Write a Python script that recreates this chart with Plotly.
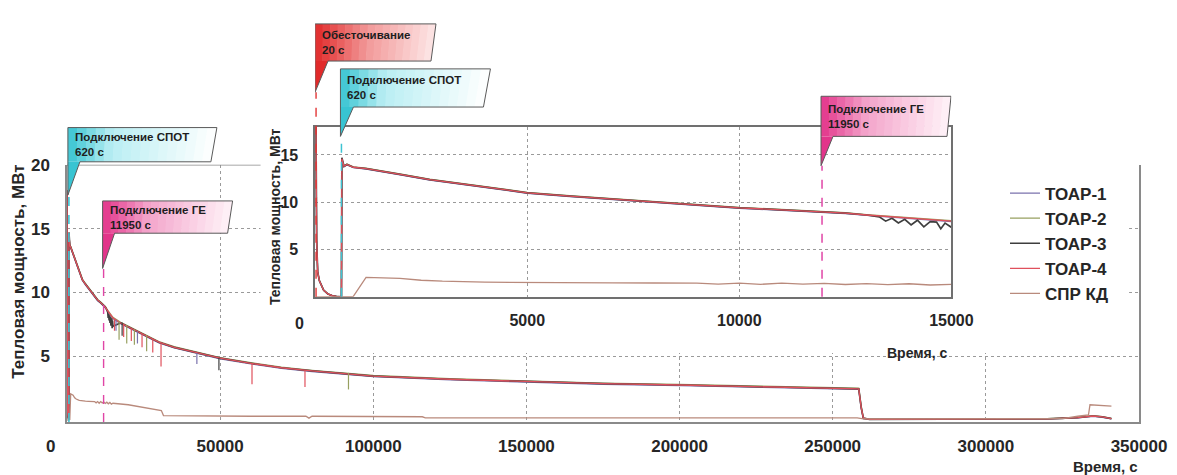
import plotly.graph_objects as go

# ------------------------------------------------------------------ data
series_names = ["ТОАР-1", "ТОАР-2", "ТОАР-3", "ТОАР-4", "СПР КД"]
series_colors = ["#7a72ad", "#97a060", "#3e3e3e", "#e0505c", "#b98a7c"]

event_names = ["Обесточивание", "Подключение СПОТ", "Подключение ГЕ"]
event_times = [20, 620, 11950]

main_xticks = [50000, 100000, 150000, 200000, 250000, 300000, 350000]
main_yticks = [5, 10, 15, 20]
inset_xticks = [5000, 10000, 15000]
inset_yticks = [5, 10, 15]

t_grid = [0, 20, 35, 60, 100, 150, 200, 300, 400, 500,
          620, 630, 680, 750, 900, 1200, 1500, 2000, 2700, 3500,
          4200, 5000, 6000, 7000, 8000, 9000, 10000, 11000, 11950, 12500,
          13000, 13300, 13450, 13600, 13750, 13900, 14050, 14200, 14350, 14500,
          14650, 14750, 14850, 15000, 17500, 20000, 25000, 30000, 35000, 40000,
          45000, 50000, 60000, 70000, 80000, 90000, 100000, 125000, 150000, 175000,
          200000, 225000, 250000, 258500, 259300, 260000, 262000, 300000, 320000, 330000,
          335000, 338000, 341000]

toar1_mw = [18.0, 18.0, 6.0, 2.6, 1.7, 1.1, 0.7, 0.3, 0.12, 0.04,
            0.0, 14.5, 13.75, 13.95, 13.65, 13.5, 13.3, 12.9, 12.35, 11.85,
            11.4, 10.95, 10.6, 10.3, 10.0, 9.65, 9.35, 9.15, 8.95, 8.8,
            8.6, 8.5, 8.45, 8.4, 8.35, 8.3, 8.25, 8.2, 8.15, 8.1,
            8.05, 8.03, 8.0, 7.95, 7.55, 7.25, 6.65, 6.05, 5.65, 5.35,
            5.05, 4.8, 4.4, 4.05, 3.8, 3.6, 3.4, 3.15, 2.95, 2.8,
            2.7, 2.57, 2.45, 2.4, 0.9, 0.12, 0.05, 0.04, 0.08, 0.18,
            0.3, 0.22, 0.1]

toar2_mw = [18.0, 18.0, 6.0, 2.6, 1.7, 1.1, 0.7, 0.3, 0.12, 0.04,
            0.0, 14.6, 13.85, 14.05, 13.75, 13.6, 13.4, 13.0, 12.45, 11.95,
            11.5, 11.05, 10.7, 10.4, 10.1, 9.75, 9.45, 9.25, 9.05, 8.9,
            8.7, 8.6, 8.55, 8.5, 8.45, 8.4, 8.35, 8.3, 8.25, 8.2,
            8.15, 8.12, 8.1, 8.05, 7.65, 7.35, 6.75, 6.15, 5.75, 5.45,
            5.15, 4.9, 4.5, 4.15, 3.9, 3.7, 3.5, 3.25, 3.05, 2.9,
            2.8, 2.67, 2.55, 2.5, 1.1, 0.16, 0.07, 0.06, 0.11, 0.22,
            0.34, 0.27, 0.13]

toar3_mw = [18.0, 18.0, 6.0, 2.6, 1.7, 1.1, 0.7, 0.3, 0.12, 0.04,
            0.0, 14.7, 13.8, 14.0, 13.7, 13.55, 13.35, 12.95, 12.4, 11.9,
            11.45, 11.0, 10.65, 10.35, 10.05, 9.7, 9.4, 9.2, 9.0, 8.85,
            8.65, 8.45, 8.0, 8.3, 7.8, 8.2, 7.6, 8.1, 7.4, 7.95,
            7.9, 7.2, 7.8, 7.35, 7.6, 7.3, 6.7, 6.1, 5.7, 5.4,
            5.1, 4.85, 4.45, 4.1, 3.85, 3.65, 3.45, 3.2, 3.0, 2.85,
            2.75, 2.62, 2.5, 2.45, 1.0, 0.15, 0.06, 0.05, 0.1, 0.2,
            0.32, 0.25, 0.12]

toar4_mw = [18.0, 18.0, 6.0, 2.6, 1.7, 1.1, 0.7, 0.3, 0.12, 0.04,
            0.0, 14.6, 13.8, 14.0, 13.7, 13.55, 13.35, 12.95, 12.4, 11.9,
            11.45, 11.0, 10.65, 10.35, 10.05, 9.7, 9.4, 9.2, 9.0, 8.85,
            8.65, 8.55, 8.5, 8.45, 8.4, 8.35, 8.3, 8.25, 8.2, 8.15,
            8.1, 8.08, 8.05, 8.0, 7.6, 7.3, 6.7, 6.1, 5.7, 5.4,
            5.1, 4.85, 4.45, 4.1, 3.85, 3.65, 3.45, 3.2, 3.0, 2.85,
            2.75, 2.62, 2.5, 2.45, 1.0, 0.15, 0.06, 0.05, 0.1, 0.2,
            0.32, 0.25, 0.12]

t_sprkd = [0, 620, 900, 1200, 1500, 2000, 2500, 3000, 4000, 5000,
           6000, 7000, 8000, 9000, 9500, 10000, 10500, 11000, 11500, 12000,
           12500, 13000, 13500, 14000, 14500, 15000, 20000, 25000, 30000, 30800,
           31500, 40000, 60000, 78000, 79000, 80000, 100000, 116000, 117000, 200000,
           258000, 260000, 300000, 325000, 330000, 333500, 334000, 337000, 341000]
sprkd_mw = [0.0, 0.0, 0.05, 2.05, 2.0, 1.95, 1.75, 1.65, 1.55, 1.5,
            1.48, 1.47, 1.46, 1.45, 1.35, 1.45, 1.32, 1.45, 1.35, 1.42,
            1.3, 1.4, 1.28, 1.38, 1.25, 1.32, 1.2, 1.0, 0.8, 0.75,
            0.35, 0.32, 0.3, 0.3, 0.15, 0.3, 0.28, 0.26, 0.18, 0.17,
            0.17, 0.1, 0.08, 0.12, 0.3, 0.4, 1.2, 1.15, 1.1]

# short downward dips (main chart): time, value before dip, value at dip bottom
toar1_dip_t = [16000, 23000, 42400]
toar1_dip_top = [7.85, 6.95, 5.25]
toar1_dip_low = [7.0, 6.0, 4.4]
toar2_dip_t = [17000, 19500, 22000, 26000, 91900]
toar2_dip_top = [7.75, 7.45, 7.1, 6.65, 3.7]
toar2_dip_low = [6.3, 6.0, 5.9, 5.4, 2.4]
toar3_dip_t = [18000, 49600]
toar3_dip_top = [7.65, 4.87]
toar3_dip_low = [6.6, 3.9]
toar4_dip_t = [15500, 18500, 21000, 24500, 28000, 30700, 60400, 77700]
toar4_dip_top = [7.95, 7.55, 7.15, 6.75, 6.35, 6.0, 4.44, 3.9]
toar4_dip_low = [7.0, 6.5, 6.2, 5.7, 5.3, 4.2, 2.8, 2.6]

# ------------------------------------------------------------------ layout geometry
FW, FH = 1177, 475
L, R, T, B = 67, 1147, 10, 422
PW, PH = R - L, B - T


def PX(xp):
    return (xp - L) / PW


def PY(yp):
    return (B - yp) / PH


FONT = "Liberation Sans, Arial, sans-serif"
TXT = "#262626"

fig = go.Figure()

curves = [(t_grid, toar1_mw), (t_grid, toar2_mw), (t_grid, toar3_mw),
          (t_grid, toar4_mw), (t_sprkd, sprkd_mw)]
widths = [1.3, 1.3, 1.7, 1.3, 1.3]

for i, (tt, vv) in enumerate(curves):
    fig.add_trace(go.Scatter(x=tt, y=vv, mode="lines", name=series_names[i],
                             line=dict(color=series_colors[i], width=widths[i]),
                             legendgroup=series_names[i], xaxis="x", yaxis="y"))

dips = [(toar1_dip_t, toar1_dip_top, toar1_dip_low),
        (toar2_dip_t, toar2_dip_top, toar2_dip_low),
        (toar3_dip_t, toar3_dip_top, toar3_dip_low),
        (toar4_dip_t, toar4_dip_top, toar4_dip_low)]
for i, (dt, dtop, dlow) in enumerate(dips):
    xs, ys = [], []
    for a, b, c in zip(dt, dtop, dlow):
        xs += [a, a, None]
        ys += [b, c, None]
    fig.add_trace(go.Scatter(x=xs, y=ys, mode="lines", showlegend=False,
                             line=dict(color=series_colors[i], width=1.2),
                             legendgroup=series_names[i], xaxis="x", yaxis="y"))

for i, (tt, vv) in enumerate(curves):
    fig.add_trace(go.Scatter(x=tt, y=vv, mode="lines", showlegend=False,
                             line=dict(color=series_colors[i], width=widths[i]),
                             legendgroup=series_names[i], xaxis="x2", yaxis="y2"))

grid = dict(showgrid=True, gridcolor="#9a9a9a", griddash="dot", gridwidth=1,
            zeroline=False, ticks="")
tickfont = dict(family=FONT, size=17, color=TXT, weight="bold")
tickfont_in = dict(family=FONT, size=16, color=TXT, weight="bold")

fig.update_layout(
    width=FW, height=FH,
    margin=dict(l=L, r=FW - R, t=T, b=FH - B),
    paper_bgcolor="white", plot_bgcolor="white",
    showlegend=True,
    legend=dict(x=PX(1012), y=PY(170), xanchor="left", yanchor="top",
                font=dict(family=FONT, size=17, color=TXT, weight="bold"),
                bgcolor="rgba(0,0,0,0)", tracegroupgap=0),
    xaxis=dict(domain=[0, 1], range=[0, 350000], tickvals=main_xticks,
               ticktext=[str(v) for v in main_xticks], tickfont=tickfont,
               ticklabelstandoff=8, showline=True, linecolor="#8a8a8a",
               linewidth=1.5, anchor="y", **grid),
    yaxis=dict(domain=[0, PY(159)], range=[-0.15, 20], tickvals=main_yticks,
               ticktext=[str(v) for v in main_yticks],
               tickfont=tickfont, ticklabelstandoff=12, showline=True,
               mirror=True, linecolor="#8a8a8a", linewidth=1.5, anchor="x", **grid),
    xaxis2=dict(domain=[PX(317), PX(958)], range=[0, 15000], tickvals=inset_xticks,
                ticktext=[str(v) for v in inset_xticks],
                tickfont=tickfont_in, ticklabelstandoff=8, showline=True, mirror=True,
                linecolor="#707070", linewidth=1.5, anchor="y2", **grid),
    yaxis2=dict(domain=[PY(294), PY(120)], range=[0, 18], tickvals=inset_yticks,
                ticktext=[str(v) for v in inset_yticks],
                tickfont=tickfont_in, ticklabelstandoff=12, showline=True, mirror=True,
                linecolor="#707070", linewidth=1.5, anchor="x2", **grid),
)

# white cover behind the inset's labels (hides the main grid there)
x_cov0 = (262 - L) / PW * 350000
x_cov1 = (1137 - L) / PW * 350000
fig.add_shape(type="rect", xref="x", yref="y", x0=x_cov0, x1=x_cov1, y0=5.25, y1=20.5,
              fillcolor="white", line=dict(width=0), layer="between")
# top border of the main frame (visible left of the inset)
fig.add_shape(type="line", xref="x", yref="y", x0=0, x1=x_cov0, y0=20, y1=20,
              line=dict(color="#8a8a8a", width=1.5), layer="above")

# event lines
ev_col = ["#e23434", "#3ec3d2", "#e045a6"]
fig.add_shape(type="line", xref="x", yref="paper", x0=event_times[1], x1=event_times[1],
              y0=PY(422), y1=PY(190), line=dict(color=ev_col[1], width=1.6, dash="dash"), layer="above")
fig.add_shape(type="line", xref="x", yref="paper", x0=event_times[2], x1=event_times[2],
              y0=PY(422), y1=PY(265), line=dict(color=ev_col[2], width=1.4, dash="dash"), layer="above")
inset_tips = [85, 130, 160]
for k in range(3):
    fig.add_shape(type="line", xref="x2", yref="paper", x0=event_times[k], x1=event_times[k],
                  y0=PY(294), y1=PY(inset_tips[k]),
                  line=dict(color=ev_col[k], width=1.5, dash="dash"), layer="above")


def hex2rgb(h):
    h = h.lstrip("#")
    return [int(h[i:i + 2], 16) for i in (0, 2, 4)]


def grad(stops, f):
    for j in range(len(stops) - 1):
        f0, c0 = stops[j]
        f1, c1 = stops[j + 1]
        if f <= f1:
            u = (f - f0) / (f1 - f0)
            a, b = hex2rgb(c0), hex2rgb(c1)
            return "rgb(%d,%d,%d)" % tuple(round(a[i] + (b[i] - a[i]) * u) for i in range(3))
    return stops[-1][1]


CYAN = [(0, "#38c4d2"), (0.3, "#b9eef3"), (1, "#ffffff")]
PINK = [(0, "#e2348a"), (0.35, "#f3a3ca"), (1, "#fff3f8")]
RED = [(0, "#e12a2a"), (0.45, "#f29a9a"), (1, "#fde6e6")]


def callout(xref, k, top, bot, wt, wb, tip, toff, stops):
    t_ev = event_times[k]
    n = 16
    yt, yb, yp = PY(top), PY(bot), PY(tip)
    for i in range(n):
        f0, f1 = i / n, (i + 1) / n
        xt0 = -1 + f0 * (wt + 1)
        xb0 = -1 + f0 * (wb + 1)
        xt1 = -1 + f1 * (wt + 1) + (0.6 if i < n - 1 else 0)
        xb1 = -1 + f1 * (wb + 1) + (0.6 if i < n - 1 else 0)
        fig.add_shape(type="path", xref=xref, xsizemode="pixel", xanchor=t_ev, yref="paper",
                      path=f"M{xt0},{yt} L{xt1},{yt} L{xb1},{yb} L{xb0},{yb} Z",
                      fillcolor=grad(stops, (f0 + f1) / 2), line=dict(width=0), layer="above")
    fig.add_shape(type="path", xref=xref, xsizemode="pixel", xanchor=t_ev, yref="paper",
                  path=f"M-1,{yb} L{toff},{yb} L-1,{yp} Z",
                  fillcolor=stops[0][1], line=dict(width=0), layer="above")
    fig.add_shape(type="path", xref=xref, xsizemode="pixel", xanchor=t_ev, yref="paper",
                  path=f"M-1,{yt} L{wt},{yt} L{wb},{yb} L{toff},{yb} L-1,{yp} Z",
                  fillcolor="rgba(0,0,0,0)", line=dict(color="#5a5a5a", width=1), layer="above")
    fig.add_annotation(xref=xref, x=t_ev, xshift=4, xanchor="left", yref="paper",
                       y=PY((top + bot) / 2), yanchor="middle", align="left", showarrow=False,
                       text=f"<b>{event_names[k]}</b><br><b>{event_times[k]} с</b>",
                       font=dict(family=FONT, size=11.5, color="#1e1e1e"))


callout("x", 1, 121, 156, 148, 142, 190, 11, CYAN)
callout("x", 2, 196, 229, 129, 124, 265, 11, PINK)
callout("x2", 0, 15, 53, 120, 115, 85, 12, RED)
callout("x2", 1, 61, 100, 149, 142, 130, 12, CYAN)
callout("x2", 2, 89, 130, 129, 125, 160, 11, PINK)


def label(xp, yp, text, size, angle=0, xanchor="center"):
    fig.add_annotation(xref="paper", yref="paper", x=PX(xp), y=PY(yp), text=text,
                       textangle=angle, showarrow=False, xanchor=xanchor, yanchor="middle",
                       font=dict(family=FONT, size=size, color=TXT, weight="bold"))


label(18, 268, "Тепловая мощность, МВт", 17, -90)
label(1148, 467, "Время, с", 15, xanchor="right")
label(276, 212, "Тепловая мощность, МВт", 14, -90)
label(957, 351, "Время, с", 14, xanchor="right")
label(50, 447, "0", 17)
label(301, 321, "0", 16)

fig.write_html("out.html")
